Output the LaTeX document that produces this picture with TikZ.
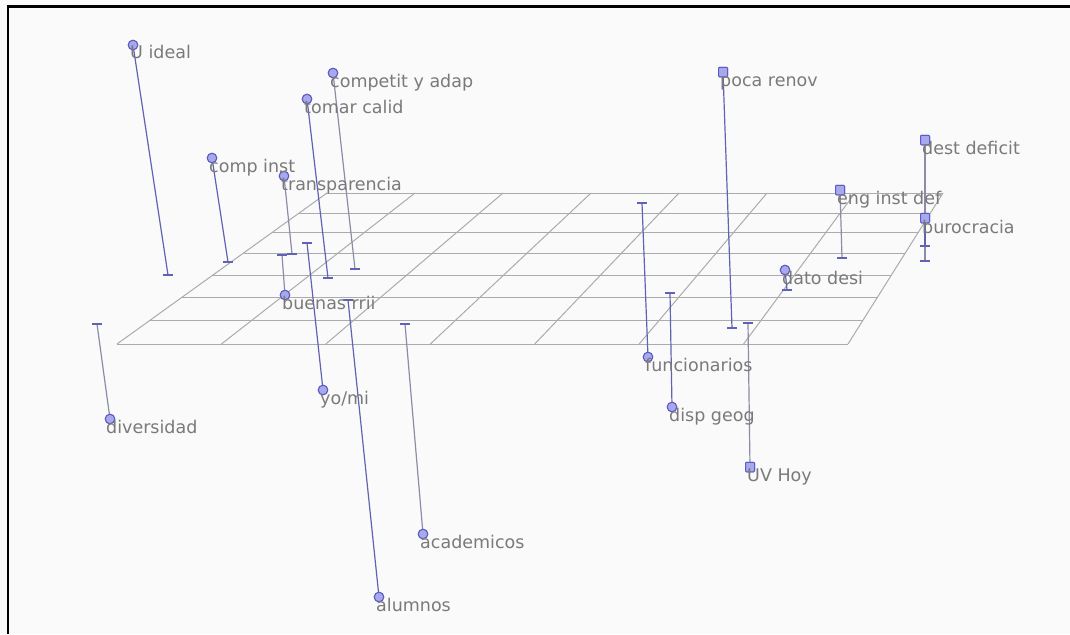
\documentclass[tikz,border=0pt]{standalone}
\usepackage{fontspec}
\setmainfont{DejaVu Sans}
\definecolor{bgc}{HTML}{FAFAFA}
\definecolor{gridc}{HTML}{ABABAB}
\definecolor{stemb}{HTML}{6262B4}
\definecolor{stemg}{HTML}{8C8CA8}
\definecolor{markf}{HTML}{A8A8EC}
\definecolor{markd}{HTML}{5C5CC4}
\definecolor{txt}{HTML}{7A7A7A}
\tikzset{
  gridline/.style={draw=gridc, line width=1pt},
  stemline/.style={draw=stemb, line width=1.2pt},
  stemgray/.style={draw=stemg, line width=1.2pt},
  footbar/.style={draw=stemb, line width=1.4pt},
  rmark/.style={circle, draw=markd, fill=markf, line width=1pt, minimum size=9.5pt, inner sep=0pt},
  smark/.style={rectangle, rounded corners=1pt, draw=markd, fill=markf, line width=1pt, minimum width=9pt, minimum height=9.5pt, inner sep=0pt},
  lab/.style={anchor=base west, inner sep=0pt, text=txt, font=\fontsize{17.5}{20}\selectfont}
}
\begin{document}
\begin{tikzpicture}[x=1pt, y=-1pt]
\useasboundingbox (0,0) rectangle (1070,634);
\fill[bgc] (0,0) rectangle (1070,634);
% frame (left and top only)
\draw[black, line width=2.5pt] (8,634) -- (8,6.5) -- (1070,6.5);
% ground grid (perspective parallelogram)
\foreach \yy in {193,213,232,253,275,297,320,344}{
  \draw[gridline] ({117+1.3907*(344-\yy)},\yy) -- ({848+0.6291*(344-\yy)},\yy);
}
\foreach \k in {0,...,7}{
  \draw[gridline] ({117+104.43*\k},344) -- ({327+88*\k},193);
}
% feet on the plane
\coordinate (fideal) at (168,275);
\coordinate (fcomp) at (355,269);
\coordinate (ftomar) at (328,278);
\coordinate (fcinst) at (228,262);
\coordinate (ftransp) at (292,254);
\coordinate (fbuenas) at (282,255);
\coordinate (fyomi) at (307,243);
\coordinate (falum) at (348,300);
\coordinate (facad) at (405,324);
\coordinate (fdiv) at (97,324);
\coordinate (fpoca) at (732,328);
\coordinate (fdest) at (925,261);
\coordinate (fburo) at (925,246);
\coordinate (feng) at (842,258);
\coordinate (fdato) at (787,290);
\coordinate (ffunc) at (642,203);
\coordinate (fdisp) at (670,293);
\coordinate (fuv) at (748,323);
% markers
\node[rmark] (mideal) at (133,45) {};
\node[rmark] (mcomp) at (333,73) {};
\node[rmark] (mtomar) at (307,99) {};
\node[rmark] (mcinst) at (212,158) {};
\node[rmark] (mtransp) at (284,176) {};
\node[rmark] (mbuenas) at (285,295) {};
\node[rmark] (myomi) at (323,390) {};
\node[rmark] (malum) at (379,597) {};
\node[rmark] (macad) at (423,534) {};
\node[rmark] (mdiv) at (110,419) {};
\node[smark] (mpoca) at (723,72) {};
\node[smark] (mdest) at (925,140) {};
\node[smark] (mburo) at (925,218) {};
\node[smark] (meng) at (840,190) {};
\node[rmark] (mdato) at (785,270) {};
\node[rmark] (mfunc) at (648,357) {};
\node[rmark] (mdisp) at (672,407) {};
\node[smark] (muv) at (750,467) {};
% stems
\draw[stemline] (mideal.center) -- (fideal);
\draw[stemgray] (mcomp.center) -- (fcomp);
\draw[stemline] (mtomar.center) -- (ftomar);
\draw[stemline] (mcinst.center) -- (fcinst);
\draw[stemgray] (mtransp.center) -- (ftransp);
\draw[stemgray] (mbuenas.center) -- (fbuenas);
\draw[stemline] (myomi.center) -- (fyomi);
\draw[stemline] (malum.center) -- (falum);
\draw[stemgray] (macad.center) -- (facad);
\draw[stemgray] (mdiv.center) -- (fdiv);
\draw[stemline] (mpoca.center) -- (fpoca);
\draw[stemgray] (mdest.center) -- (fdest);
\draw[stemline] (mburo.center) -- (fburo);
\draw[stemgray] (meng.center) -- (feng);
\draw[stemline] (mdato.center) -- (fdato);
\draw[stemline] (mfunc.center) -- (ffunc);
\draw[stemline] (mdisp.center) -- (fdisp);
\draw[stemgray] (muv.center) -- (fuv);
% foot bars
\foreach \f in {fideal,fcomp,ftomar,fcinst,ftransp,fbuenas,fyomi,falum,facad,fdiv,fpoca,fdest,fburo,feng,fdato,ffunc,fdisp,fuv}{
  \draw[footbar] ([xshift=-5pt]\f) -- ([xshift=5pt]\f);
}
% redraw markers on top
\foreach \m in {mideal,mcomp,mtomar,mcinst,mtransp,mbuenas,myomi,malum,macad,mdiv,mdato,mfunc,mdisp}{
  \node[rmark] at (\m) {};
}
\foreach \m in {mpoca,mdest,mburo,meng,muv}{
  \node[smark] at (\m) {};
}
% labels
\node[lab] (lideal) at (130,58.5) {U ideal};
\node[lab] (lcomp) at (330,87) {competit y adap};
\node[lab] (ltomar) at (304,113) {tomar calid};
\node[lab] (lcinst) at (209,172) {comp inst};
\node[lab] (ltransp) at (281,190) {transparencia};
\node[lab] (lbuenas) at (282,309) {buenas rrii};
\node[lab] (lyomi) at (320,404) {yo/mi};
\node[lab] (lalum) at (376,611) {alumnos};
\node[lab] (lacad) at (420,548) {academicos};
\node[lab] (ldiv) at (106,433) {diversidad};
\node[lab] (lpoca) at (720,86) {poca renov};
\node[lab] (ldest) at (922,154) {dest deficit};
\node[lab] (lburo) at (922,233) {burocracia};
\node[lab] (leng) at (837,204) {eng inst def};
\node[lab] (ldato) at (782,284) {dato desi};
\node[lab] (lfunc) at (645,371) {funcionarios};
\node[lab] (ldisp) at (669,421) {disp geog};
\node[lab] (luv) at (747,481) {UV Hoy};
\end{tikzpicture}
\end{document}
